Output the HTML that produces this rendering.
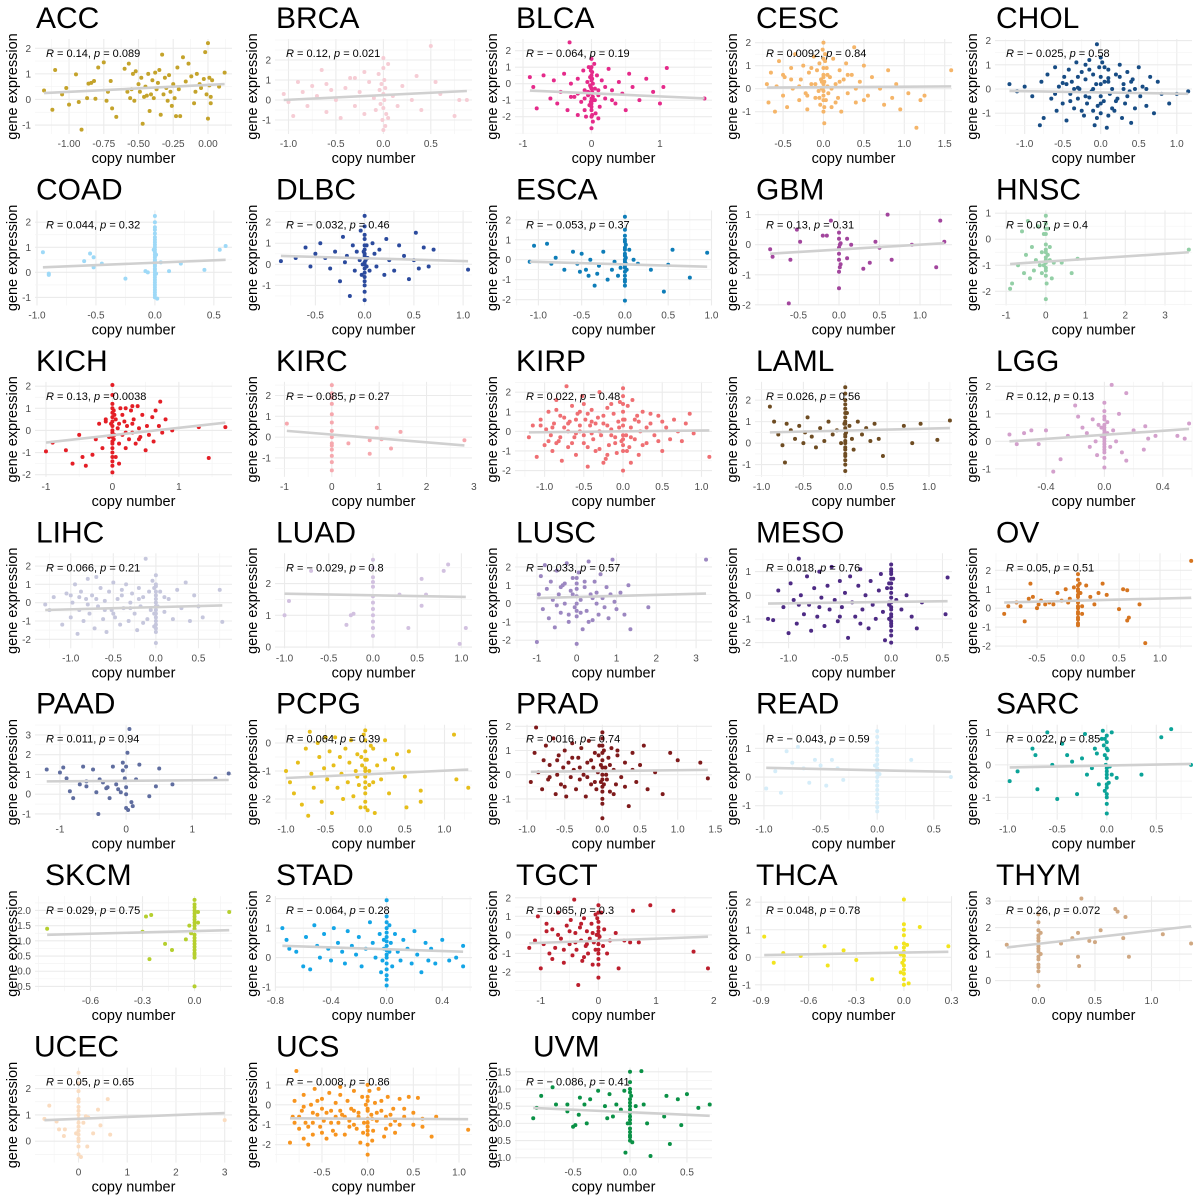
<!DOCTYPE html>
<html><head><meta charset="utf-8"><style>
html,body{margin:0;padding:0;background:#fff;}
svg{display:block;font-family:"Liberation Sans",sans-serif;}
</style></head><body>
<svg id="chart" width="1200" height="1200" viewBox="0 0 1200 1200"></svg>
<script>
const names=["ACC","BRCA","BLCA","CESC","CHOL","COAD","DLBC","ESCA","GBM","HNSC","KICH","KIRC","KIRP","LAML","LGG","LIHC","LUAD","LUSC","MESO","OV","PAAD","PCPG","PRAD","READ","SARC","SKCM","STAD","TGCT","THCA","THYM","UCEC","UCS","UVM"];
const colors=["#c4a32b","#f6cdd5","#e52a8a","#f5b569","#174c84","#9ed9f7","#2b4a9d","#0e7db8","#a2459d","#93cfa6","#e41e26","#f6a8ae","#ef6f73","#6e4c22","#d3a0cc","#c6c7dd","#d2c1e0","#9c87c1","#4d2a84","#d67520","#5f6d9f","#e6be1a","#7e1a1b","#d5edf9","#0ba398","#b5cf2e","#13a5e6","#bc1e2d","#f2e41e","#d0a882","#fadcc0","#f7941e","#0a9146"];
const xDomains=[[-1.245,0.173],[-1.142,0.934],[-1.117,1.76],[-0.847,1.59],[-1.39,1.2],[-1.017,0.654],[-0.91,1.09],[-1.27,1.006],[-1.037,1.395],[-1.28,3.68],[-1.165,1.8],[-1.2,2.96],[-1.377,1.134],[-1.078,1.275],[-0.749,0.6],[-1.42,0.894],[-1.108,1.12],[-1.55,3.4],[-1.327,0.593],[-1.012,1.39],[-1.377,1.6],[-1.139,1.347],[-1.16,1.455],[-1.079,0.66],[-1.128,0.86],[-0.92,0.216],[-0.803,0.614],[-1.447,1.97],[-0.938,0.303],[-0.384,1.358],[-0.893,3.15],[-1.014,1.142],[-1.01,0.72]];
const yDomains=[[-1.35,2.48],[-1.7,3.2],[-3.05,2.89],[-1.97,2.29],[-1.86,2.19],[-1.32,2.59],[-1.95,2.7],[-2.29,2.62],[-2.02,1.24],[-2.54,1.22],[-2.1,2.33],[-1.91,2.8],[-2.32,2.68],[-1.57,2.99],[-1.29,2.27],[-2.49,2.86],[-0.04,3.05],[-2.44,2.91],[-2.24,1.9],[-2.12,3.06],[-1.29,3.67],[-2.74,0.76],[-1.86,2.19],[-1.49,1.93],[-1.69,1.33],[-0.655,2.57],[-1.14,2.19],[-3.03,2.25],[-1.23,2.33],[-0.4,3.3],[-0.81,2.91],[-2.9,2.02],[-1.14,1.71]];
const xTicks=[[-1,-0.75,-0.5,-0.25,0],[-1,-0.5,0,0.5],[-1,0,1],[-0.5,0,0.5,1,1.5],[-1,-0.5,0,0.5,1],[-1,-0.5,0,0.5],[-0.5,0,0.5,1],[-1,-0.5,0,0.5,1],[-0.5,0,0.5,1],[-1,0,1,2,3],[-1,0,1],[-1,0,1,2,3],[-1,-0.5,0,0.5,1],[-1,-0.5,0,0.5,1],[-0.4,0,0.4],[-1,-0.5,0,0.5],[-1,-0.5,0,0.5,1],[-1,0,1,2,3],[-1,-0.5,0,0.5],[-0.5,0,0.5,1],[-1,0,1],[-1,-0.5,0,0.5,1],[-1,-0.5,0,0.5,1,1.5],[-1,-0.5,0,0.5],[-1,-0.5,0,0.5],[-0.6,-0.3,0],[-0.8,-0.4,0,0.4],[-1,0,1,2],[-0.9,-0.6,-0.3,0,0.3],[0,0.5,1],[0,1,2,3],[-0.5,0,0.5,1],[-0.5,0,0.5]];
const yTicks=[[-1,0,1,2],[-1,0,1,2],[-2,-1,0,1,2],[-1,0,1,2],[-1,0,1,2],[-1,0,1,2],[-1,0,1,2],[-2,-1,0,1,2],[-2,-1,0,1],[-2,-1,0,1],[-2,-1,0,1,2],[-1,0,1,2],[-2,-1,0,1,2],[-1,0,1,2],[-1,0,1,2],[-2,-1,0,1,2],[0,1,2],[-2,-1,0,1,2],[-2,-1,0,1],[-2,-1,0,1,2],[-1,0,1,2,3],[-2,-1,0],[-1,0,1,2],[-1,0,1],[-1,0,1],[-0.5,0,0.5,1,1.5,2],[-1,0,1,2],[-2,-1,0,1,2],[-1,0,1,2],[0,1,2,3],[0,1,2],[-2,-1,0,1],[-1,-0.5,0,0.5,1,1.5]];
const rVals=[0.14,0.12,-0.064,0.0092,-0.025,0.044,-0.032,-0.053,0.13,0.07,0.13,-0.085,0.022,0.026,0.12,0.066,-0.029,0.033,0.018,0.05,0.011,0.064,0.016,-0.043,0.022,0.029,-0.064,0.065,0.048,0.26,0.05,-0.008,-0.086];
const pVals=[0.089,0.021,0.19,0.84,0.58,0.32,0.46,0.37,0.31,0.4,0.0038,0.27,0.48,0.56,0.13,0.21,0.8,0.57,0.76,0.51,0.94,0.39,0.74,0.59,0.85,0.75,0.28,0.3,0.78,0.072,0.65,0.86,0.41];
const lineX=[[-1.18,0.12],[-1.05,0.88],[-0.9,1.65],[-0.7,1.58],[-1.2,1.15],[-0.95,0.6],[-0.85,1.05],[-1.1,0.95],[-0.85,1.3],[-0.9,3.6],[-1,1.7],[-0.95,2.8],[-1.2,1.1],[-0.9,1.25],[-0.65,0.58],[-1.3,0.78],[-1,1.05],[-1,3.25],[-1.2,0.55],[-0.9,1.38],[-1.2,1.55],[-1,1.3],[-0.95,1.4],[-0.98,0.65],[-0.98,0.85],[-0.85,0.2],[-0.75,0.55],[-1.2,1.9],[-0.88,0.28],[-0.28,1.35],[-0.7,3],[-0.85,1.1],[-0.85,0.7]];
const lineY=[[0.25,0.6],[0.0,0.45],[-0.42,-0.89],[0.05,0.1],[-0.08,-0.2],[0.2,0.5],[0.4,0.15],[-0.1,-0.35],[-0.3,0.05],[-0.95,-0.5],[-0.55,0.35],[0.3,-0.4],[-0.05,0.05],[0.5,0.7],[0.0,0.45],[-0.4,-0.15],[1.68,1.58],[0.3,0.55],[-0.35,-0.25],[0.3,0.55],[0.65,0.72],[-1.25,-0.95],[0.12,0.2],[0.32,0.18],[-0.08,0.03],[1.2,1.35],[0.4,0.2],[-0.45,-0.1],[0.08,0.2],[1.25,2.05],[0.8,1.07],[-0.68,-0.72],[0.45,0.22]];
const titleX=[36,36,36,36,36,36,36,36,36,36,36,36,36,36,36,36,36,36,36,36,36,36,36,36,36,45,36,36,36,36,34,36,53];
const points=[
[-1.18,0.35,-1.12,-0.4,-1.1,1.15,-1.05,0.2,-1.02,0.45,-1.0,-0.2,-0.95,0.98,-0.93,-0.1,-0.91,-1.18,-0.87,0.05,-0.86,0.62,-0.84,0.65,-0.82,0.72,-0.81,0.03,-0.79,1.25,-0.75,1.45,-0.73,-0.05,-0.72,0.3,-0.7,0.72,-0.69,-0.35,-0.66,-0.68,-0.6,1.2,-0.58,0.3,-0.57,1.4,-0.56,0.05,-0.55,0.4,-0.54,1.0,-0.53,-0.05,-0.52,1.1,-0.5,0.6,-0.49,0.3,-0.48,0.85,-0.47,-0.95,-0.46,0.1,-0.45,0.5,-0.44,0.15,-0.43,1.0,-0.42,-0.45,-0.41,0.2,-0.4,0.75,-0.39,0.05,-0.38,1.05,-0.37,0.4,-0.36,0.65,-0.35,1.15,-0.34,-0.6,-0.33,1.75,-0.32,0.2,-0.31,0.85,-0.3,0.45,-0.29,-0.05,-0.28,0.95,-0.27,0.3,-0.26,-0.25,-0.25,0.6,-0.24,0.05,-0.23,-0.65,-0.22,1.25,-0.21,0.4,-0.2,-0.65,-0.18,1.65,-0.16,0.7,-0.14,1.4,-0.12,0.9,-0.1,-0.15,-0.09,0.3,-0.08,1.0,-0.06,0.6,-0.05,0.45,-0.03,0.8,-0.02,1.85,-0.01,0.2,0.0,-0.75,0.0,2.2,0.01,0.85,0.01,0.55,0.02,0.1,0.02,-0.15,0.03,0.75,0.08,0.5,0.12,1.05],
[-1.05,0.3,-1.0,-0.1,-0.95,-0.8,-0.9,0.9,-0.85,0.4,-0.8,-0.3,-0.75,0.7,-0.7,0.2,-0.65,1.5,-0.6,-0.6,-0.55,0.5,-0.5,0.0,-0.45,-0.9,-0.4,0.6,-0.35,1.1,-0.3,-0.3,-0.25,0.4,-0.2,-0.7,-0.15,0.9,-0.1,0.1,-0.08,-0.5,-0.05,1.3,-0.04,0.5,-0.03,-0.2,-0.02,0.8,-0.01,-1.0,0.0,2.1,0.0,1.6,0.0,0.3,0.0,-0.4,0.0,-1.5,0.01,1.0,0.01,0.0,0.02,-1.3,0.02,0.6,0.03,-0.7,0.05,1.8,0.1,0.2,0.15,-0.3,0.2,0.7,0.3,0.0,0.35,1.2,0.4,-0.5,0.5,2.7,0.55,0.9,0.6,0.3,0.75,-0.8,0.8,0.0,0.88,0.0,-0.3,1.1,-0.2,1.4,-0.6,0.8,0.05,-0.9],
[-0.9,0.4,-0.85,-0.2,-0.8,-1.5,-0.7,0.5,-0.6,-0.9,-0.55,0.2,-0.5,-1.2,-0.45,-0.5,-0.4,0.6,-0.35,-1.6,-0.32,2.5,-0.3,0.0,-0.25,-0.8,-0.2,0.3,-0.15,-1.1,-0.12,0.8,-0.1,-0.4,-0.08,-2.0,-0.06,0.1,-0.05,-0.7,-0.04,1.0,-0.03,-1.3,-0.02,0.4,-0.01,-0.2,0.0,-2.7,0.0,1.5,0.0,-0.9,0.0,0.2,0.0,-1.6,0.01,0.7,0.01,-0.5,0.02,-2.3,0.02,0.0,0.03,-1.0,0.04,1.2,0.05,-0.3,0.06,-1.8,0.08,0.5,0.1,-0.7,0.12,-1.4,0.15,0.2,0.2,-0.9,0.25,0.9,0.3,-0.4,0.35,-1.2,0.4,0.1,0.45,-0.6,0.5,-1.6,0.55,0.6,0.6,-0.2,0.7,-1.0,0.8,0.3,0.9,-0.5,1.0,-1.2,1.05,-0.2,1.1,0.95,1.65,-0.9,-0.2,-1.9,0.1,-2.1,-0.1,-1.6],
[-0.7,0.2,-0.68,-0.6,-0.65,0.7,-0.6,-1.0,-0.58,0.1,-0.55,1.2,-0.5,-0.3,-0.48,0.5,-0.45,-0.8,-0.4,0.9,-0.38,0.0,-0.35,1.5,-0.3,-0.5,-0.28,0.4,-0.25,1.0,-0.22,-0.2,-0.2,-0.9,-0.18,0.7,-0.15,0.2,-0.12,1.4,-0.1,-0.4,-0.08,0.8,-0.06,-0.1,-0.05,1.1,-0.04,-0.7,-0.03,0.4,-0.02,0.0,-0.01,1.7,0.0,-1.0,0.0,0.6,0.0,2.0,0.0,-0.3,0.01,0.3,0.01,-1.5,0.02,1.2,0.03,-0.5,0.04,0.9,0.05,0.1,0.06,-0.2,0.08,0.5,0.1,-0.8,0.12,1.3,0.15,0.2,0.18,-0.4,0.2,0.8,0.22,-1.0,0.25,0.4,0.28,1.1,0.3,-0.2,0.35,0.6,0.38,1.8,0.4,-0.6,0.45,0.3,0.5,1.0,0.55,-0.3,0.6,0.5,0.7,0.0,0.75,-0.7,0.8,0.8,0.85,-0.4,0.9,0.2,0.95,-0.9,1.05,-0.2,1.15,-1.7,1.2,-0.5,1.25,-0.3,1.58,0.8],
[-1.2,0.2,-1.1,-0.1,-1.0,0.1,-0.9,-0.3,-0.8,-1.5,-0.78,0.3,-0.75,-1.2,-0.7,0.6,-0.65,-0.4,-0.6,0.9,-0.58,-0.9,-0.55,0.1,-0.5,-0.6,-0.48,0.5,-0.45,-1.3,-0.42,0.8,-0.4,-0.2,-0.38,0.3,-0.35,-0.8,-0.32,1.1,-0.3,-0.4,-0.28,0.0,-0.25,0.7,-0.22,-1.1,-0.2,0.4,-0.18,-0.6,-0.15,1.2,-0.12,-0.1,-0.1,0.6,-0.08,-1.5,-0.06,0.2,-0.05,1.85,-0.04,-0.7,-0.02,0.9,0.0,-0.3,0.0,0.5,0.0,-1.0,0.02,1.1,0.04,-0.5,0.05,0.3,0.08,-1.6,0.1,0.8,0.12,-0.2,0.15,0.0,0.18,-0.9,0.2,0.6,0.22,-0.4,0.25,1.0,0.28,-1.2,0.3,0.2,0.32,-0.6,0.35,0.7,0.38,-0.1,0.4,-1.4,0.42,0.4,0.45,-0.8,0.5,0.9,0.52,-0.3,0.55,0.1,0.6,-0.7,0.65,0.5,0.7,-1.0,0.75,0.3,0.8,-0.2,0.9,-0.6,1.0,-0.2,1.15,-0.1,-0.3,0.05,-0.15,-0.35,0.1,0.45,-0.5,0.25],
[-0.95,0.8,-0.9,-0.05,-0.9,-0.1,-0.6,0.45,-0.55,0.75,-0.52,0.6,-0.52,0.2,-0.45,0.35,-0.25,-0.25,-0.08,0.05,-0.06,0.0,0.0,2.25,0.0,1.7,0.0,1.4,0.0,1.2,0.0,1.0,0.0,0.8,0.0,0.6,0.0,0.5,0.0,0.4,0.0,0.3,0.0,0.15,0.0,0.0,0.0,-0.2,0.0,-0.4,0.0,-0.6,0.0,-0.8,0.0,-1.0,0.0,1.55,0.0,1.1,0.01,0.7,0.01,-0.05,0.02,-1.05,-0.01,0.9,0.05,0.4,0.12,0.05,0.22,0.35,0.42,0.1,0.55,0.9,0.6,1.05],
[-0.85,0.15,-0.7,0.3,-0.6,0.8,-0.55,-0.1,-0.5,0.5,-0.45,1.0,-0.4,0.3,-0.35,-0.2,-0.3,0.6,-0.25,-0.8,-0.22,1.3,-0.2,0.1,-0.18,0.4,-0.15,-1.5,-0.12,0.9,-0.1,-0.3,-0.08,0.6,-0.05,0.2,-0.04,1.6,-0.03,-0.5,-0.02,0.0,0.0,2.3,0.0,1.8,0.0,1.2,0.0,0.7,0.0,0.4,0.0,0.1,0.0,-0.2,0.0,-0.6,0.0,-1.0,0.0,-1.7,0.02,0.9,0.03,0.3,0.05,-0.3,0.08,1.0,0.1,0.5,0.12,-0.1,0.15,0.7,0.2,-0.5,0.22,1.2,0.25,0.2,0.3,-0.3,0.35,0.9,0.4,0.4,0.45,-0.7,0.5,0.2,0.52,1.5,0.55,-0.2,0.6,0.8,0.65,-0.1,0.7,0.7,1.05,-0.25],
[-1.1,-0.1,-1.05,0.7,-0.9,0.8,-0.85,-0.2,-0.8,0.1,-0.7,-0.5,-0.6,0.4,-0.55,-0.2,-0.52,-0.6,-0.5,0.3,-0.45,-0.5,-0.42,-0.8,-0.4,0.0,-0.35,-1.3,-0.32,-0.7,-0.3,-0.3,-0.25,0.4,-0.2,-1.0,-0.15,-0.5,-0.12,-0.1,-0.08,-0.8,-0.05,-0.4,0.0,2.15,0.0,1.2,0.0,0.9,0.0,0.6,0.0,0.3,0.0,0.0,0.0,-0.3,0.0,-0.6,0.0,-1.0,0.0,-1.3,0.0,-2.05,0.01,0.75,0.02,-0.5,0.05,0.5,0.1,0.0,0.15,-0.2,0.3,-0.5,0.45,-1.6,0.5,-0.25,0.55,0.5,0.75,-0.9,0.95,0.35],
[-0.85,-0.15,-0.82,-0.4,-0.62,-1.95,-0.6,-0.5,-0.52,0.5,-0.48,0.1,-0.2,0.3,-0.15,0.3,-0.1,0.8,0.0,0.4,0.0,0.2,0.0,-0.1,0.0,-0.3,0.0,-0.5,0.0,-0.9,0.0,-1.45,0.01,0.0,0.01,-0.75,0.02,0.05,0.02,-0.65,0.1,0.2,0.1,-0.45,0.15,0.0,0.3,-0.8,0.38,-0.6,0.45,0.1,0.5,-0.1,0.6,1.0,0.65,-0.5,0.9,0.0,1.2,-0.75,1.25,0.8,1.3,0.1],
[-0.9,-1.9,-0.85,-1.7,-0.7,-1.0,-0.6,0.3,-0.55,-1.3,-0.5,-0.6,-0.45,0.7,-0.4,-1.5,-0.35,-0.3,-0.3,-1.2,-0.25,-0.8,-0.2,0.5,-0.15,-1.0,-0.1,-0.5,-0.05,0.2,0.0,0.9,0.0,0.6,0.0,0.2,0.0,-0.2,0.0,-0.5,0.0,-0.8,0.0,-1.1,0.0,-1.4,0.0,-2.3,0.02,-1.7,0.05,0.4,0.1,-0.3,0.15,-1.5,0.2,-0.9,0.4,-0.9,0.65,-1.3,0.8,-0.75,3.6,-0.4],
[-1.0,-0.95,-0.9,-0.55,-0.7,-0.9,-0.6,-1.5,-0.5,-0.2,-0.45,-1.2,-0.4,-1.6,-0.3,-1.1,-0.25,-0.4,-0.2,0.3,-0.15,-0.8,-0.1,0.5,-0.05,-0.3,0.0,2.05,0.0,1.6,0.0,1.2,0.0,0.8,0.0,0.4,0.0,0.0,0.0,-0.3,0.0,-0.6,0.0,-1.0,0.0,-1.4,0.0,-1.9,0.02,0.9,0.03,-0.2,0.05,0.5,0.05,-1.2,0.08,0.1,0.1,-0.6,0.12,1.0,0.15,-0.2,0.18,0.4,0.2,-0.8,0.22,0.2,0.25,-0.4,0.28,0.9,0.3,-0.1,0.32,0.5,0.35,-0.6,0.38,1.1,0.4,0.1,0.42,-0.3,0.45,0.7,0.5,-0.9,0.52,0.2,0.55,-0.2,0.6,0.6,0.62,-0.5,0.65,0.9,0.7,0.2,0.72,1.3,0.75,-0.1,0.8,0.5,0.9,0.0,1.3,0.15,1.45,-1.25,1.7,0.15,0.3,1.1,0.2,1.0,-0.1,0.4,0.1,-1.5],
[-0.95,0.65,0.0,2.5,0.0,2.1,0.0,1.6,0.0,1.1,0.0,0.7,0.0,0.3,0.0,0.0,0.0,-0.3,0.0,-0.6,0.0,-0.9,0.0,-1.2,0.0,-1.6,0.0,1.9,0.0,-0.4,0.35,-0.3,0.8,-0.8,0.8,-0.15,0.95,0.45,1.05,-0.1,1.25,-0.55,1.45,0.25,2.8,-0.15],
[-1.2,-0.3,-1.15,0.3,-1.1,-1.3,-1.05,0.6,-1.0,-0.7,-0.98,0.1,-0.95,1.0,-0.92,-0.2,-0.9,-1.0,-0.88,0.4,-0.85,1.6,-0.82,-0.5,-0.8,0.8,-0.78,-1.5,-0.75,0.2,-0.72,2.3,-0.7,-0.8,-0.68,0.5,-0.65,1.3,-0.62,-0.3,-0.6,-1.2,-0.58,0.9,-0.55,0.0,-0.52,1.8,-0.5,-0.6,-0.48,0.6,-0.45,-1.8,-0.42,0.3,-0.4,1.1,-0.38,-0.4,-0.35,-1.0,-0.32,0.7,-0.3,2.0,-0.28,-0.2,-0.25,0.4,-0.22,-1.4,-0.2,1.2,-0.18,-0.7,-0.15,0.1,-0.12,0.9,-0.1,-0.3,-0.08,-1.1,-0.06,0.5,-0.04,1.5,-0.02,-0.5,0.0,2.2,0.0,1.0,0.0,0.3,0.0,-0.4,0.0,-1.0,0.0,-2.0,0.02,0.6,0.04,-0.2,0.06,1.3,0.08,-0.8,0.1,0.2,0.12,1.6,0.15,-0.4,0.18,0.8,0.2,-1.2,0.22,0.0,0.25,1.0,0.3,-0.6,0.35,0.4,0.4,-0.2,0.45,0.8,0.5,-1.0,0.55,0.2,0.6,-0.4,0.65,0.6,0.7,0.0,0.75,-0.5,0.8,0.4,0.85,0.9,0.9,-0.1,1.1,-1.3,-0.6,-0.1,-0.45,0.9,-0.3,-0.9,-0.15,1.4,-0.7,0.0,-0.85,-0.6,-0.4,-0.1,-0.25,-1.6,-0.55,1.0,0.1,-1.6],
[-0.9,1.7,-0.85,1.0,-0.8,0.4,-0.75,-0.1,-0.72,-0.9,-0.7,0.9,-0.65,0.6,-0.6,0.2,-0.55,0.8,-0.5,0.0,-0.48,0.5,-0.45,1.2,-0.4,0.3,-0.35,-0.2,-0.3,0.7,-0.25,0.1,-0.2,1.0,-0.15,0.4,-0.1,0.6,-0.05,0.0,0.0,2.6,0.0,2.0,0.0,1.6,0.0,1.2,0.0,0.9,0.0,0.6,0.0,0.3,0.0,0.0,0.0,-0.3,0.0,-0.6,0.0,-1.0,0.0,-1.3,0.02,1.4,0.05,0.8,0.08,0.2,0.1,-0.3,0.15,1.0,0.2,0.4,0.25,0.7,0.3,0.1,0.35,0.9,0.4,0.2,0.45,-0.6,0.7,0.8,0.8,0.0,0.9,0.9,1.1,0.15,1.25,1.05],
[-0.65,0.25,-0.6,-0.1,-0.55,0.3,-0.5,0.4,-0.45,-0.1,-0.4,0.4,-0.35,-1.1,-0.3,-0.65,-0.25,0.2,-0.2,1.3,-0.18,0.9,-0.15,0.5,-0.12,0.3,-0.1,-0.2,-0.08,0.8,-0.06,0.0,-0.05,-0.5,-0.04,0.6,-0.02,0.2,0.0,1.4,0.0,1.1,0.0,0.8,0.0,0.5,0.0,0.3,0.0,0.1,0.0,-0.1,0.0,-0.3,0.0,-0.6,0.0,-0.95,0.02,0.7,0.04,-0.2,0.05,2.05,0.06,0.4,0.08,0.0,0.1,1.0,0.12,-0.4,0.15,1.75,0.15,-0.7,0.2,0.4,0.28,0.55,0.3,0.1,0.35,0.2,0.5,0.2,0.55,0.1,0.58,0.65,0.27,-0.3],
[-1.3,-0.1,-1.25,-0.4,-1.2,0.3,-1.1,-1.2,-1.05,0.5,-1.0,-0.8,-0.98,0.0,-0.95,1.0,-0.92,-1.7,-0.9,-0.4,-0.88,0.6,-0.85,-1.0,-0.82,0.2,-0.8,1.3,-0.78,-0.6,-0.75,0.4,-0.72,-1.4,-0.7,1.4,-0.68,-0.2,-0.65,0.8,-0.62,-0.9,-0.6,0.1,-0.58,-1.6,-0.55,0.6,-0.52,-0.4,-0.5,1.1,-0.48,-0.8,-0.45,0.2,-0.42,-1.2,-0.4,0.7,-0.38,-0.3,-0.35,1.0,-0.32,-1.0,-0.3,0.0,-0.28,0.5,-0.25,-0.6,-0.22,-1.5,-0.2,0.8,-0.18,-0.2,-0.15,0.3,-0.12,2.4,-0.1,-0.9,-0.08,0.6,-0.06,-0.4,-0.04,1.2,-0.02,-1.3,0.0,1.5,0.0,0.9,0.0,0.4,0.0,0.0,0.0,-0.4,0.0,-0.8,0.0,-1.2,0.0,-1.6,0.0,-2.2,0.02,-0.2,0.05,0.6,0.1,-0.5,0.15,0.2,0.2,-0.9,0.25,0.7,0.3,-0.3,0.35,1.1,0.4,-1.0,0.45,0.4,0.5,-0.2,0.55,-0.8,0.75,0.7,0.78,-1.05],
[-1.0,1.0,-0.95,1.45,-0.7,2.4,-0.3,0.7,-0.25,1.0,-0.22,1.05,0.0,2.75,0.0,2.5,0.0,2.2,0.0,1.9,0.0,1.6,0.0,1.4,0.0,1.2,0.0,1.0,0.0,0.8,0.0,0.6,0.0,0.35,0.0,2.05,0.3,1.65,0.4,0.6,0.55,2.15,0.55,1.3,0.6,1.65,0.8,2.4,0.85,2.6,0.98,0.1,1.05,0.6],
[-1.0,-2.1,-0.95,0.5,-0.9,1.5,-0.85,-0.3,-0.8,2.1,-0.75,0.8,-0.7,-0.8,-0.65,1.2,-0.6,0.2,-0.55,-1.3,-0.5,1.8,-0.45,0.5,-0.4,-0.5,-0.35,1.0,-0.3,0.0,-0.25,2.2,-0.2,-1.0,-0.15,0.7,-0.1,1.4,-0.05,-0.2,0.0,-2.2,0.0,0.4,0.0,1.1,0.0,-0.7,0.05,1.7,0.1,0.2,0.15,-1.4,0.2,0.9,0.25,-0.4,0.3,2.3,0.35,0.5,0.4,-0.9,0.45,1.2,0.5,0.0,0.55,-0.6,0.6,1.6,0.65,0.3,0.7,-0.2,0.75,0.9,0.8,-0.8,0.85,0.5,0.9,2.4,0.95,0.1,1.0,-0.3,1.1,0.6,1.2,-0.6,1.3,1.0,1.35,-1.4,1.8,-0.2,3.25,2.4],
[-1.2,-1.0,-1.15,-1.05,-1.1,0.2,-1.05,-0.5,-1.0,-1.6,-0.98,0.5,-0.95,-0.2,-0.92,-1.2,-0.9,1.55,-0.88,0.0,-0.85,-0.8,-0.82,0.8,-0.8,-0.4,-0.78,-1.5,-0.75,0.3,-0.72,-0.9,-0.7,1.0,-0.68,-0.1,-0.65,-1.3,-0.62,0.4,-0.6,-0.6,-0.58,1.2,-0.55,-0.2,-0.52,-1.1,-0.5,0.6,-0.48,-0.5,-0.45,0.1,-0.42,-1.8,-0.4,0.8,-0.38,-0.3,-0.35,-0.9,-0.32,0.4,-0.3,1.1,-0.28,-0.6,-0.25,0.0,-0.22,-1.4,-0.2,0.6,-0.18,-0.4,-0.15,-1.0,-0.12,0.2,-0.1,0.9,-0.08,-0.7,-0.06,-1.9,-0.04,0.3,-0.02,-0.3,0.0,1.3,0.0,0.9,0.0,0.5,0.0,0.1,0.0,-0.3,0.0,-0.6,0.0,-0.9,0.0,-1.3,0.0,-1.7,0.0,1.1,0.0,-1.1,0.02,0.7,0.05,-0.2,0.1,-0.6,0.15,0.0,0.2,-0.9,0.25,-1.4,0.3,-0.3,0.55,0.75,0.53,-0.8],
[-0.9,-0.3,-0.85,0.1,-0.75,0.3,-0.7,0.1,-0.65,-0.7,-0.6,0.5,-0.58,1.3,-0.55,0.6,-0.5,0.0,-0.48,0.2,-0.45,0.4,-0.4,0.2,-0.35,0.3,-0.3,0.2,-0.25,0.8,-0.2,0.4,-0.15,1.0,-0.12,0.3,-0.1,0.5,-0.05,1.1,0.0,1.8,0.0,1.5,0.0,1.2,0.0,0.9,0.0,0.6,0.0,0.3,0.0,0.0,0.0,-0.3,0.0,-0.6,0.0,-0.9,0.03,0.8,0.05,0.1,0.05,-0.3,0.1,1.2,0.15,0.6,0.2,0.2,0.25,0.8,0.3,1.3,0.35,0.7,0.5,-0.05,0.55,1.0,0.6,-0.65,0.62,-0.5,0.6,0.95,0.75,0.2,0.82,-1.85,1.38,2.5],
[-1.2,1.25,-1.0,1.1,-0.95,1.35,-0.9,0.8,-0.85,0.15,-0.8,-0.2,-0.7,0.5,-0.65,1.4,-0.6,0.65,-0.5,1.25,-0.45,0.1,-0.42,-1.0,-0.4,0.75,-0.35,0.6,-0.3,0.3,-0.28,0.35,-0.25,-0.2,-0.2,1.4,-0.15,0.5,-0.12,0.25,-0.08,0.1,-0.05,1.6,-0.02,0.8,0.0,0.35,0.0,0.0,0.0,-0.7,0.02,2.1,0.03,-0.8,0.05,3.3,0.08,-0.4,0.15,0.75,0.2,1.5,0.35,-0.1,0.45,0.4,0.5,1.3,0.7,0.5,1.35,0.8,1.55,1.05,0.0,1.4,-0.05,1.2,0.1,-0.6,-0.6,0.4],
[-1.0,-1.0,-0.95,-1.4,-0.9,-1.8,-0.85,-0.7,-0.8,-2.2,-0.75,-0.2,-0.72,-2.6,-0.7,0.4,-0.68,-1.1,-0.65,-1.6,-0.6,0.0,-0.58,-0.5,-0.55,-2.1,-0.52,-0.9,-0.5,0.2,-0.48,-1.3,-0.45,-0.3,-0.42,-2.5,-0.4,-0.8,-0.38,0.2,-0.35,-1.6,-0.32,-0.5,-0.3,-1.1,-0.28,-2.0,-0.25,-0.2,-0.22,-1.4,-0.2,-0.7,-0.18,0.1,-0.15,-1.9,-0.12,-1.0,-0.1,-0.4,-0.08,-1.5,-0.06,-2.3,-0.04,-0.8,-0.02,0.3,0.0,0.45,0.0,-0.3,0.0,-0.9,0.0,-1.2,0.0,-1.6,0.0,-2.1,0.02,-0.6,0.03,-2.4,0.05,-1.0,0.07,-0.1,0.1,-1.4,0.12,-2.5,0.15,-0.8,0.2,-1.3,0.25,-0.6,0.3,-1.8,0.35,-0.9,0.4,-0.4,0.5,-1.2,0.52,-2.3,0.55,-0.3,0.7,-1.7,0.7,-2.1,1.12,0.3,1.15,-1.3,1.3,-1.6,0.25,0.1],
[-0.95,-0.3,-0.9,0.9,-0.88,1.95,-0.85,0.1,-0.8,-0.6,-0.78,0.6,-0.75,1.2,-0.72,-0.2,-0.7,0.4,-0.65,1.5,-0.62,-0.8,-0.6,0.0,-0.58,0.8,-0.55,-0.4,-0.52,0.3,-0.5,1.0,-0.48,-0.9,-0.45,0.5,-0.42,-0.1,-0.4,1.3,-0.38,0.2,-0.35,-0.6,-0.32,0.7,-0.3,-0.2,-0.28,1.1,-0.25,0.0,-0.22,-0.9,-0.2,0.5,-0.18,1.4,-0.15,-0.4,-0.12,0.3,-0.1,0.9,-0.08,-0.6,-0.06,0.1,-0.04,1.2,-0.02,-0.3,0.0,1.75,0.0,0.6,0.0,0.0,0.0,-0.5,0.0,-1.0,0.0,-1.8,0.02,1.0,0.04,0.3,0.06,-0.2,0.08,0.7,0.1,-0.7,0.12,1.1,0.15,0.2,0.18,-0.4,0.2,0.8,0.25,-0.1,0.3,0.5,0.35,-1.3,0.4,0.9,0.45,-0.3,0.5,0.4,0.6,-0.6,0.7,0.1,0.8,-0.8,0.9,0.9,1.0,0.6,1.3,0.5,1.4,-0.15],
[-0.98,-0.4,-0.9,0.2,-0.85,-0.55,-0.8,0.9,-0.75,0.5,-0.7,1.05,-0.65,0.3,-0.6,-0.2,-0.55,0.6,-0.5,0.4,-0.45,-0.3,-0.4,0.6,-0.35,0.3,-0.3,-0.1,-0.02,0.4,0.0,1.6,0.0,1.2,0.0,0.9,0.0,0.6,0.0,0.3,0.0,0.0,0.0,-0.3,0.0,-0.6,0.0,-0.9,0.0,-1.2,0.02,0.1,0.3,0.6,0.65,0.0],
[-0.98,-0.5,-0.9,-0.2,-0.75,0.5,-0.72,0.3,-0.7,-0.75,-0.6,1.0,-0.55,0.0,-0.5,-1.05,-0.45,0.65,-0.4,0.3,-0.35,0.1,-0.3,-0.9,-0.25,0.2,-0.22,0.95,-0.2,-0.3,-0.15,-0.1,-0.12,0.5,-0.1,0.35,-0.08,-0.6,-0.05,0.8,-0.04,1.05,-0.03,0.6,-0.02,0.3,-0.01,0.0,0.0,-0.2,0.0,-0.4,0.0,-0.7,0.0,-1.0,0.0,-1.5,0.0,0.9,0.01,0.45,0.02,-0.55,0.03,-0.05,0.05,1.0,0.05,-0.3,0.1,-0.4,0.35,-0.3,0.55,0.85,0.65,1.1,0.85,0.0],
[-0.85,1.4,-0.3,1.3,-0.28,1.8,-0.26,0.4,-0.25,1.85,-0.17,0.9,-0.13,0.7,-0.05,1.05,-0.03,1.5,0.0,2.35,0.0,2.1,0.0,1.9,0.0,1.7,0.0,1.5,0.0,1.35,0.0,1.2,0.0,1.0,0.0,0.8,0.0,0.6,0.0,0.45,0.0,-0.5,0.02,1.6,0.02,1.95,-0.02,1.25,0.2,1.95],
[-0.75,1.0,-0.72,0.6,-0.7,0.3,-0.65,0.2,-0.6,-0.3,-0.58,0.7,-0.55,-0.4,-0.52,1.1,-0.5,0.4,-0.48,0.0,-0.45,0.8,-0.42,0.3,-0.4,-0.1,-0.38,1.0,-0.35,0.5,-0.32,0.2,-0.3,-0.2,-0.28,0.9,-0.25,0.4,-0.22,0.1,-0.2,0.7,-0.18,-0.3,-0.15,0.3,-0.12,1.2,-0.1,0.5,-0.08,0.0,-0.05,0.8,-0.04,-0.5,-0.02,0.3,0.0,1.95,0.0,1.4,0.0,1.0,0.0,0.7,0.0,0.4,0.0,0.1,0.0,-0.2,0.0,-0.6,0.0,-0.95,0.02,1.1,0.03,0.5,0.04,-0.3,0.06,0.8,0.08,0.2,0.1,-0.1,0.12,0.6,0.15,0.3,0.18,-0.2,0.2,0.9,0.22,0.1,0.25,-0.5,0.28,0.5,0.3,-0.1,0.32,0.3,0.35,-0.2,0.4,0.6,0.45,-0.1,0.5,0.0,0.55,0.4,0.55,-0.3],
[-1.2,-0.7,-1.1,-0.3,-1.05,1.0,-1.0,-1.8,-0.95,-0.5,-0.9,0.6,-0.85,-1.0,-0.8,0.3,-0.75,-0.7,-0.7,1.2,-0.65,-0.2,-0.6,-1.5,-0.55,0.5,-0.5,-0.5,-0.48,0.8,-0.45,-1.1,-0.42,1.9,-0.4,0.1,-0.38,-0.8,-0.35,-2.7,-0.32,0.4,-0.3,-0.3,-0.28,-1.4,-0.25,0.9,-0.22,-0.6,-0.2,0.2,-0.18,-1.0,-0.15,-0.2,-0.12,0.6,-0.1,-1.6,-0.08,-0.4,-0.05,1.1,-0.03,0.0,0.0,1.6,0.0,0.7,0.0,0.2,0.0,-0.3,0.0,-0.8,0.0,-1.3,0.0,-2.3,0.02,-0.1,0.05,1.2,0.08,-0.6,0.1,0.3,0.15,-1.0,0.2,-0.3,0.3,0.1,0.35,-1.8,0.45,-0.3,0.55,-0.4,0.6,1.3,0.7,-0.4,0.9,1.6,1.3,1.3,1.65,-0.9,1.9,-1.8],
[-0.88,0.75,-0.82,-0.2,-0.76,0.15,-0.65,0.05,-0.5,0.4,-0.48,-0.3,-0.38,0.25,-0.3,-0.1,-0.2,-0.8,-0.05,0.35,-0.02,0.1,0.0,2.1,0.0,1.2,0.0,0.8,0.0,0.5,0.0,0.2,0.0,-0.1,0.0,-0.3,0.0,-0.6,0.0,-1.0,-0.02,-0.55,-0.01,-0.2,0.02,0.45,0.1,1.1,0.28,0.4,0.03,-0.95],
[-0.28,1.35,0.0,2.5,0.0,2.2,0.0,1.9,0.0,1.7,0.0,1.5,0.0,1.3,0.0,1.1,0.0,0.8,0.0,0.6,0.0,0.35,0.0,-0.2,0.02,1.8,0.02,1.0,0.2,1.4,0.3,1.6,0.35,1.8,0.35,0.9,0.36,0.55,0.38,3.1,0.45,1.5,0.5,1.45,0.55,1.9,0.68,2.7,0.7,2.6,0.75,1.6,0.77,2.4,0.8,0.9,1.1,1.75,1.35,1.4],
[-0.7,0.85,-0.6,1.35,-0.45,0.75,-0.4,0.45,-0.3,0.2,-0.28,0.45,-0.05,0.3,0.0,2.6,0.0,2.2,0.0,1.9,0.0,1.6,0.0,1.3,0.0,1.0,0.0,0.7,0.0,0.4,0.0,0.1,0.0,-0.2,0.0,-0.5,0.05,-0.6,0.1,0.7,0.15,0.95,0.18,-0.2,0.2,0.9,0.3,0.3,0.4,1.2,0.45,0.6,0.6,1.6,0.65,0.25,3.0,0.8],
[-0.85,-1.9,-0.82,-0.6,-0.8,0.2,-0.78,1.7,-0.75,-1.2,-0.72,-0.3,-0.7,0.5,-0.68,-0.9,-0.65,-2.0,-0.62,0.0,-0.6,-1.5,-0.58,0.8,-0.55,-0.5,-0.52,-1.1,-0.5,0.3,-0.48,-0.8,-0.45,-1.7,-0.42,0.6,-0.4,-0.3,-0.38,-1.3,-0.35,0.1,-0.32,-0.9,-0.3,0.9,-0.28,-0.5,-0.25,-1.5,-0.22,0.2,-0.2,-0.8,-0.18,-0.2,-0.15,0.7,-0.12,-1.2,-0.1,-0.4,-0.08,-1.9,-0.06,0.4,-0.04,-0.9,-0.02,0.0,0.0,1.0,0.0,0.4,0.0,-0.3,0.0,-0.7,0.0,-1.1,0.0,-1.5,0.0,-2.0,0.0,-2.5,0.02,0.7,0.04,-0.5,0.06,-1.3,0.08,0.1,0.1,-0.8,0.12,0.8,0.15,-0.3,0.18,-1.6,0.2,-0.6,0.22,0.4,0.25,-1.0,0.28,-0.2,0.3,-1.4,0.35,0.3,0.4,-0.6,0.45,0.4,0.5,-1.0,0.55,0.35,0.6,-0.7,0.7,-1.6,0.75,-0.6,1.1,-1.25,-0.5,-0.2,-0.35,-0.6,-0.15,-1.0,-0.6,-0.9,0.05,-1.8],
[-0.85,0.15,-0.82,0.45,-0.78,0.8,-0.68,1.05,-0.65,0.55,-0.55,0.55,-0.55,0.35,-0.5,-0.1,-0.48,-0.05,-0.45,0.25,-0.44,0.75,-0.4,0.55,-0.38,0.0,-0.35,0.7,-0.28,0.95,-0.22,0.5,-0.2,0.15,-0.18,0.85,-0.15,0.2,-0.12,0.55,-0.08,0.4,-0.05,0.95,-0.04,-0.85,0.0,1.5,0.0,1.2,0.0,0.9,0.0,0.7,0.0,0.5,0.0,0.3,0.0,0.1,0.0,-0.15,0.0,-0.35,0.0,-0.5,0.02,-0.55,-0.02,0.0,0.05,0.5,0.1,1.52,0.12,0.55,0.15,0.0,0.18,-0.95,0.3,0.2,0.32,0.8,0.35,-0.6,0.42,0.7,0.45,-0.05,0.5,0.85,0.6,0.45,0.7,0.55]
];
const extraPoints=[
[],
[],
[0,-1.2,0,-0.6,0,-0.3,0,0.5,0,1.0,0.01,-1.9,-0.01,-1.1,0.02,-0.8,-0.02,-0.1,0.01,0.3,0,-1.4,0,-2.0,-0.01,0.8,-0.05,-0.5,0.05,-1.0,-0.1,-0.9,0.1,-0.4,-0.2,-0.6,0.2,-0.2,-0.3,-0.8,0.3,-1.0],
[0,0.5,0,0.2,0,-0.1,0,-0.5,0,0.9,0,1.3,0.01,-0.8,-0.01,0.0,0.02,1.5,-0.02,0.3,0.05,0.6,-0.05,-0.4,0.1,0.0,-0.1,0.2,0.15,-0.6,-0.15,0.9,0.2,0.3,-0.2,-0.3,0.3,0.6,-0.3,0.1,0.4,0.0,-0.4,0.4,0.5,-0.5,-0.5,0.6],
[-0.1,0.0,0.0,-0.6,0.1,0.3,-0.2,-0.3,0.2,-0.5,-0.3,0.5,0.3,0.0,-0.4,-0.5,0.4,0.3,0.0,0.2,-0.05,-1.2,0.05,0.9,-0.15,0.8,0.15,-0.8,-0.25,-0.9,0.25,0.5,-0.35,0.0,0.35,-0.3,0.45,0.0,-0.45,0.2,-0.6,-0.2,0.6,0.0,-0.1,-0.9,0.1,-1.1,0.0,1.3,-0.2,1.0],
[0,1.3,0,0.9,0,0.7,0,0.45,0,0.25,0,0.1,0,-0.1,0,-0.3,0,-0.5,0,-0.7,0,-0.9,0,1.8,0,2.0],
[0,0.9,0,0.5,0,0.0,0,-0.4,0,-0.8,0,1.4,0,-1.3,0.01,0.2,-0.01,0.6,0.02,-0.1],
[0,1.0,0,0.5,0,0.2,0,-0.1,0,-0.4,0,-0.8,0,-1.1,0,1.5,0.01,-0.2,0.01,0.1],
[],
[0,-0.7,0,-0.9,0,-1.2,0,-0.4,0,0.4,-0.05,-1.0,0.05,-0.6,-0.1,-1.3,0.1,-0.8],
[0,1.0,0,0.6,0,0.2,0,-0.1,0,-0.5,0,-0.8,0,-1.2,0,-1.6,0.02,-0.4,0.03,0.7,-0.02,0.3,0.1,0.3,0.2,-0.1,0.3,0.3,0.4,-0.4,0.15,0.7],
[],
[-0.9,0.2,-0.8,-0.3,-0.7,0.4,-0.6,0.6,-0.5,-0.2,-0.4,0.5,-0.3,0.0,-0.2,0.3,-0.1,-0.6,0.0,0.6,0.0,-0.2,0.0,1.4,0.0,-0.7,0.1,-0.3,0.2,0.5,0.3,0.2,-0.95,-0.5,-0.75,0.7,-0.65,-0.6,-0.55,0.3,-0.45,-0.8,-0.35,0.4,-0.25,0.8,-0.15,-0.2,-0.05,0.2,0.05,-1.0,0.15,0.6,0.25,-0.7,0.35,0.9,0.45,-0.5,-1.05,0.3,-0.85,1.1,-0.5,1.4,-0.2,-1.2,0.0,1.8,0.5,0.5],
[0,1.4,0,1.0,0,0.7,0,0.4,0,0.1,0,-0.2,0,-0.5,0,-0.8,0,2.3,0,1.8,0.01,0.5,-0.01,0.9],
[0,0.9,0,0.6,0,0.4,0,0.2,0,0.0,0,-0.2,0,-0.4,-0.02,0.5,0.02,0.3],
[0,1.0,0,0.6,0,0.2,0,-0.2,0,-0.6,0,-1.0,0,-1.4,-0.02,0.8,-0.02,-0.6,-0.3,-0.3,-0.5,-0.6,-0.7,0.2,-0.9,0.3,-0.2,0.2,-0.4,0.4,-0.6,-0.4,-0.8,-0.1,-1.0,0.4,0.1,0.3,-0.15,-1.1],
[],
[0,0.8,0,0.0,0,-0.4,0,1.4,0.1,-0.5,-0.1,0.5,0.2,1.2,-0.2,-0.6,0.3,-1.0,-0.3,1.1,0.5,0.6,-0.5,-0.1,0.4,0.3,-0.4,0.9],
[0,1.0,0,0.7,0,0.3,0,-0.1,0,-0.5,0,-0.8,0,-1.2,0,-1.5,0,-2.0,-0.02,0.5,-0.02,-0.4,-0.02,-1.0,-0.5,-0.9,-0.7,-0.5,-0.3,-1.2,-0.9,-0.4],
[0,1.0,0,0.7,0,0.4,0,0.1,0,-0.2,0,-0.5,0,-0.8,0.02,1.3],
[],
[0,-0.6,0,-1.0,0,-1.4,0,-1.8,0,-2.3,0,0.1,-0.05,-0.5,0.05,-1.5,-0.1,-1.2,0.1,-0.2],
[0,1.5,0,1.2,0,0.9,0,0.3,0,-0.2,0,-0.7,0,-1.2,-0.02,0.4,0.02,-0.4,-0.05,0.8,0.05,0.0,-0.1,-0.3,0.1,0.4,-0.15,0.6,0.15,-0.8,-0.2,-0.1,0.2,1.0,-0.3,0.3,0.3,-0.5,-0.4,0.7,0.4,0.2,-0.5,-0.5,-0.6,0.6,-0.7,-0.1,0.55,1.2],
[0,1.4,0,1.0,0,0.75,0,0.45,0,0.15,0,-0.15,0,-0.45,0,-0.75,0,-1.05],
[0,0.7,0,0.5,0,0.2,0,-0.1,0,-0.3,0,-0.6,0,-0.9,0,-1.2,-0.02,0.8,-0.02,-0.8],
[0,2.2,0,2.0,0,1.8,0,1.6,0,1.4,0,1.1,0,0.9,0,0.7,0,0.55],
[0,1.2,0,0.85,0,0.55,0,0.25,0,0.0,0,-0.4,0,-0.75,-0.02,0.6,0.02,0.2,-0.03,-0.1],
[0,1.2,0,0.4,0,0.0,0,-0.5,0,-1.0,0,-1.6,-0.02,0.9,-0.05,-0.8,-0.1,0.1,-0.2,-0.5,-0.3,0.6,-0.4,-0.4,-0.5,0.2,-0.6,-0.8,-0.7,0.0,-0.8,-1.3,-0.9,0.2,-0.25,-1.2],
[0,0.35,0,0.05,0,-0.45,0,-0.8,0,1.0],
[0,1.6,0,1.2,0,0.9,0,0.5],
[0,1.5,0,1.15,0,0.85,0,0.55,0,0.25,0,0.0],
[-0.8,-0.9,-0.7,-0.1,-0.6,-0.4,-0.5,-1.4,-0.4,-0.9,-0.3,-0.3,-0.2,-1.1,-0.1,-0.6,0.0,-0.2,0.0,-0.9,0.0,-1.3,0.0,0.2,0.1,-0.4,0.2,-1.2,0.3,-0.8,0.4,-0.2,-0.75,-0.6,-0.65,-1.1,-0.55,0.2,-0.45,-0.4,-0.35,-1.5,-0.25,-0.6,-0.15,-0.3,-0.05,-1.4,0.05,-0.7,0.15,0.2,0.25,-0.5,0.35,-1.0,0.5,-0.4,0.6,-1.1,-0.7,-1.7,-0.3,0.5],
[0,0.6,0,0.4,0,0.2,0,0.0,0,-0.25,0,-0.4,0,1.0,0.01,0.8]
];

const NS="http://www.w3.org/2000/svg";
const svg=document.getElementById('chart');
const CW=240, CH=1200/7, PL=35, PR=232, PT=36, PB=134, GT=39;
function mk(tag,attrs,parent){const e=document.createElementNS(NS,tag);for(const k in attrs)e.setAttribute(k,attrs[k]);parent.appendChild(e);return e;}
function decs(ticks){let d=0;ticks.forEach(t=>{const s=String(Math.abs(t));const i=s.indexOf('.');if(i>=0)d=Math.max(d,s.length-i-1);});return d;}
function fmt(v,d){const s=Math.abs(v).toFixed(d);return (v<0?'-':'')+s;}

names.forEach((name,i)=>{
  const col=i%5,row=Math.floor(i/5);
  const ox=col*CW, oy=row*CH;
  const g=mk('g',{transform:`translate(${ox},${oy})`},svg);
  
  
  const [x0,x1]=xDomains[i],[y0,y1]=yDomains[i];
  const sx=v=>PL+(v-x0)/(x1-x0)*(PR-PL);
  const sy=v=>PB-(v-y0)/(y1-y0)*(PB-PT);
  const grid=mk('g',{},g);
  
  
  const xt=xTicks[i], yt=yTicks[i];
  const xstep=xt[1]-xt[0], ystep=yt[1]-yt[0];
  for(let v=xt[0]-xstep*2.5; v<=x1+1e-9; v+=xstep/2){ if(v<x0)continue; const major=xt.some(t=>Math.abs(t-v)<1e-6);
    mk('line',{x1:sx(v),x2:sx(v),y1:GT,y2:PB,stroke:major?'#ebebeb':'#f4f4f4','stroke-width':major?1.1:0.7},grid);}
  for(let v=yt[0]-ystep*2.5; v<=y1+1e-9; v+=ystep/2){ if(v<y0)continue; const py=sy(v); if(py<GT)continue; const major=yt.some(t=>Math.abs(t-v)<1e-6);
    mk('line',{x1:PL,x2:PR,y1:py,y2:py,stroke:major?'#ebebeb':'#f4f4f4','stroke-width':major?1.1:0.7},grid);}
  const xd=decs(xt), yd=decs(yt);
  xt.forEach(t=>{const e=mk('text',{x:sx(t),y:147,'text-anchor':'middle','font-size':10,fill:'#4d4d4d'},g);e.textContent=fmt(t,xd);
    
    });
  yt.forEach(t=>{const e=mk('text',{x:31,y:sy(t)+3.5,'text-anchor':'end','font-size':10,fill:'#4d4d4d'},g);e.textContent=fmt(t,yd);
    
    });
  const pts=points[i].concat(extraPoints[i]);
  const pg=mk('g',{fill:colors[i]},g);
  
  
  for(let k=0;k<pts.length;k+=2){const c=mk('circle',{cx:sx(pts[k]),cy:sy(pts[k+1]),r:2},pg);
    
    }
  const ln=mk('line',{x1:sx(lineX[i][0]),y1:sy(lineY[i][0]),x2:sx(lineX[i][1]),y2:sy(lineY[i][1]),stroke:'#d0d0d0','stroke-width':2.6},g);
  
  
  const an=mk('text',{x:46,y:57,'font-size':11,fill:'#000'},g);
  
  
  const r=rVals[i];
  an.innerHTML=`<tspan font-style="italic">R</tspan> = ${r<0?'\u2212 ':''}${Math.abs(r)}, <tspan font-style="italic">p</tspan> = ${pVals[i]}`;
  const tt=mk('text',{x:titleX[i],y:28,'font-size':30,fill:'#000'},g);tt.textContent=name;
  
  
  const xl=mk('text',{x:(PL+PR)/2,y:163,'text-anchor':'middle','font-size':14.5,fill:'#000'},g);xl.textContent='copy number';
  
  
  const yl=mk('text',{x:0,y:0,'text-anchor':'middle','font-size':14.5,fill:'#000',transform:`translate(17,${(GT+PB)/2}) rotate(-90)`},g);yl.textContent='gene expression';
  
  
});
</script>
</body></html>
